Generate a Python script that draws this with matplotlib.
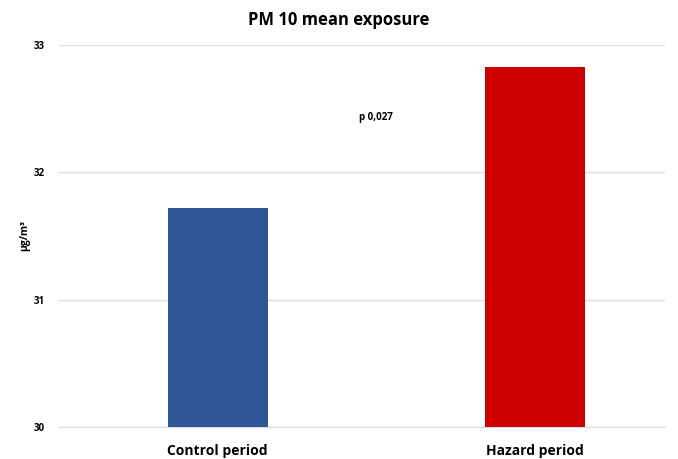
import matplotlib
matplotlib.use("Agg")
import matplotlib.pyplot as plt

# data
categories = ["Control period", "Hazard period"]
values = [31.72, 32.83]
colors = ["#2F5597", "#CC0000"]
yticks = [30, 31, 32, 33]
p_label = "p 0,027"

plt.rcParams["font.family"] = ["Open Sans", "DejaVu Sans"]

fig = plt.figure(figsize=(6.78, 4.59), dpi=100)
ax = fig.add_axes([0.087, 0.070, 0.894, 0.832])

x = list(range(len(categories)))
ax.bar(x, values, width=0.315, color=colors, zorder=3)

ax.set_ylim(30, 33)
ax.set_xlim(-0.50, 1.41)
ax.set_yticks(yticks)
ax.set_yticklabels([str(t) for t in yticks], fontsize=7, fontweight="bold")
ax.set_xticks(x)
ax.set_xticklabels(categories, fontsize=10, fontweight="bold")
ax.tick_params(axis="both", length=0, pad=10)
ax.tick_params(axis="x", pad=12)
ax.grid(axis="y", color="#E0E0E0", lw=1, zorder=0)
for s in ["top", "right", "left"]:
    ax.spines[s].set_visible(False)
ax.spines["bottom"].set_color("#D9D9D9")

ax.set_ylabel("µg/m³", fontsize=7.5, fontweight="bold", labelpad=3)
ax.text(0.50, 32.43, p_label, fontsize=7, fontweight="bold", ha="center", va="center")
fig.suptitle("PM 10 mean exposure", fontsize=12, fontweight="bold", y=0.975)

fig.savefig("out.png", dpi=100)
